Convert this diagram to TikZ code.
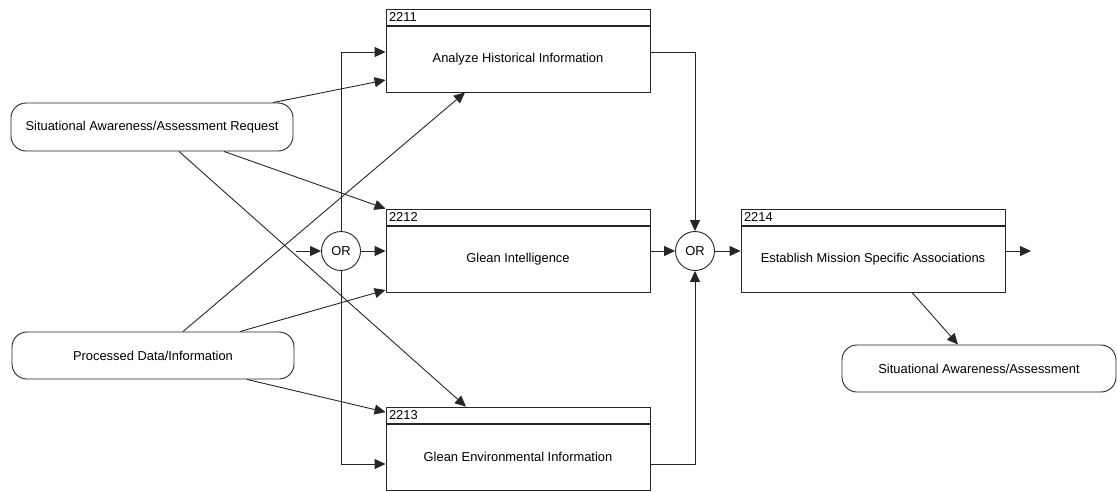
\documentclass[tikz,border=0pt]{standalone}
\usepackage{fontspec}
\setmainfont{Liberation Sans}
\usetikzlibrary{arrows.meta,calc}
\begin{document}
\begin{tikzpicture}[x=1pt,y=-1pt,
  line/.style={draw=black!85, line width=0.9pt},
  arr/.style={line, -{Triangle[length=11pt,width=10pt]}},
  txt/.style={font=\fontsize{12.9}{14}\selectfont, text=black},
  procbody/.style={line, txt, fill=white, minimum width=264pt, minimum height=66pt, inner sep=0pt},
  prochead/.style={line, txt, fill=white, anchor=south, text width=258pt, inner xsep=3pt,
    inner ysep=0pt, minimum height=16pt, align=left},
  terminal/.style={line, txt, fill=white, rounded corners=15pt, minimum width=282pt,
    minimum height=48pt, inner sep=0pt},
  orgate/.style={line, txt, circle, fill=white, minimum size=39pt, inner sep=0pt}]
\useasboundingbox (0,0) rectangle (1117,491);

% activity boxes: body with a numbered header strip on top
\node[procbody] (b2211) at (518,59) {Analyze Historical Information};
\node[prochead] (h2211) at (b2211.north) {2211};
\node[procbody] (b2212) at (518,259) {Glean Intelligence};
\node[prochead] (h2212) at (b2212.north) {2212};
\node[procbody] (b2213) at (518,457) {Glean Environmental Information};
\node[prochead] (h2213) at (b2213.north) {2213};
\node[procbody] (b2214) at (873,259) {Establish Mission Specific Associations};
\node[prochead] (h2214) at (b2214.north) {2214};

% inputs and output
\node[terminal] (sar) at (152,127) {Situational Awareness/Assessment Request};
\node[terminal, minimum height=47pt] (pdi) at (153,355.5) {Processed Data/Information};
\node[terminal, minimum width=274pt, minimum height=47pt] (saa) at (979,368.5) {Situational Awareness/Assessment};

% junctions
\node[orgate] (or1) at (341,251) {OR};
\node[orgate] (or2) at (695,251) {OR};

\coordinate (stub) at (296,251);
\coordinate (out) at (1031,251);

% request flows
\draw[arr] ([xshift=121pt]sar.north) -- ([yshift=-21pt]b2211.west);
\draw[arr] ([xshift=72pt]sar.south) -- (h2212.north west);
\draw[arr] ([xshift=27pt]sar.south) -- ([xshift=-52pt]h2213.north);

% data flows
\draw[arr] ([xshift=30pt]pdi.north) -- ([xshift=-53pt]b2211.south);
\draw[arr] ([xshift=87pt]pdi.north) -- ([yshift=-31pt]b2212.west);
\draw[arr] ([xshift=94pt]pdi.south) -- ([yshift=3pt]h2213.west);

% first junction fans out to the three activities
\draw[arr] (stub) -- (or1.west);
\draw[arr] (or1.east) -- (or1.east -| b2212.west);
\draw[arr] (or1.north) |- ([yshift=7pt]b2211.west);
\draw[arr] (or1.south) |- ([yshift=-7pt]b2213.west);

% second junction gathers the results
\draw[arr] ([yshift=7pt]b2211.east) -| (or2.north);
\draw[arr] (or2.west -| b2212.east) -- (or2.west);
\draw[arr] ([yshift=-7pt]b2213.east) -| (or2.south);
\draw[arr] (or2.east) -- (or2.east -| b2214.west);

% outputs of 2214
\draw[arr] (out -| b2214.east) -- (out);
\draw[arr] ([xshift=39pt]b2214.south) -- ([xshift=-21pt]saa.north);
\end{tikzpicture}
\end{document}
